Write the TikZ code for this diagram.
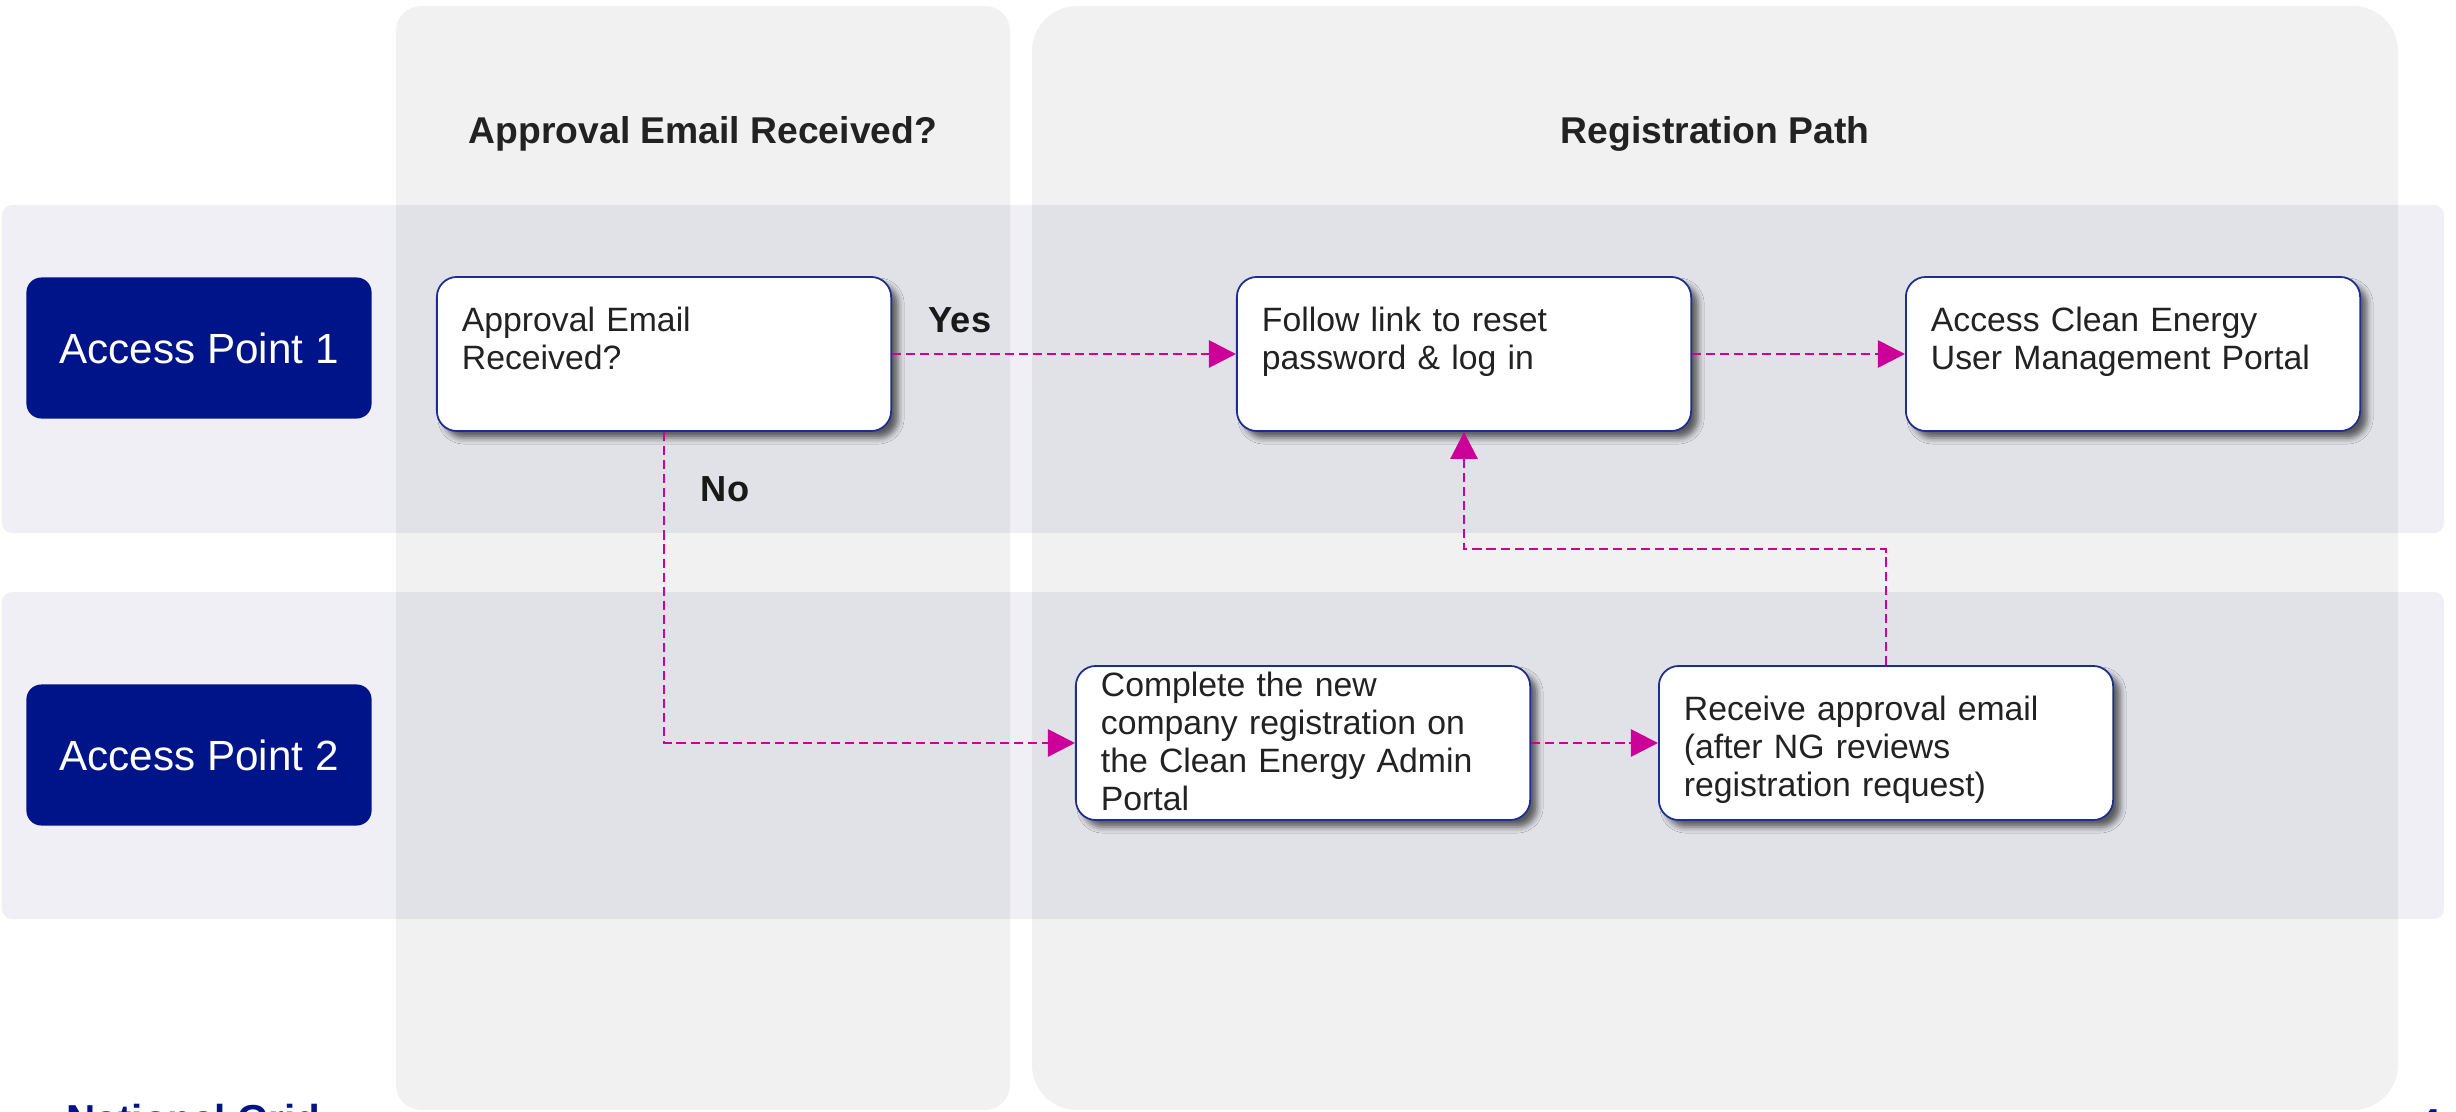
\documentclass[tikz,border=0pt]{standalone}
\usepackage{fontspec}
\setmainfont{Liberation Sans}
\usepackage{tikz}
\usetikzlibrary{positioning}
\usetikzlibrary{arrows.meta, shadows.blur}
\definecolor{ngnavy}{RGB}{0,20,137}
\definecolor{edgenavy}{RGB}{30,45,145}
\definecolor{flowpink}{RGB}{204,0,153}
\definecolor{panelgray}{RGB}{241,241,241}
\definecolor{lanegray}{RGB}{239,239,245}
\definecolor{overlapgray}{RGB}{225,226,231}
\definecolor{inktext}{RGB}{34,34,34}

\tikzset{
  stepbox/.style={draw=edgenavy, line width=0.5pt, fill=white, rounded corners=0.2cm,
    text width=4.04cm, inner xsep=0.25cm, inner ysep=0pt, align=left,
    text height=0.55cm, text depth=0.99cm, text=inktext,
    font=\fontsize{9.6}{10.8}\selectfont,
    blur shadow={shadow xshift=0.07cm, shadow yshift=-0.07cm, shadow blur radius=0.06cm, shadow opacity=60}},
  apbox/.style={fill=ngnavy, rounded corners=0.15cm, minimum width=3.45cm, minimum height=1.41cm,
    text=white, font=\fontsize{12}{14}\selectfont},
  header/.style={text=inktext, font=\bfseries\fontsize{10.6}{12}\selectfont},
  choice/.style={text=black!90, font=\bfseries\fontsize{10.3}{12}\selectfont},
  footer/.style={text=ngnavy, font=\bfseries\fontsize{11.5}{13}\selectfont, inner sep=0pt},
  flow/.style={draw=flowpink, line width=0.8pt, dash pattern=on 2.6pt off 1.4pt,
    -{Triangle[length=0.27cm, width=0.27cm]}}
}

\begin{document}
\begin{tikzpicture}[x=0.01cm, y=-0.01cm]
    \useasboundingbox (0,0) rectangle (2456,1112);
    \clip (0,0) rectangle (2456,1112);

    % swim lanes for the two access points
    \fill[lanegray, rounded corners=0.1cm] (2,205) rectangle (2444,533);
    \fill[lanegray, rounded corners=0.1cm] (2,592) rectangle (2444,919);

    % column panels
    \fill[panelgray, rounded corners=0.25cm] (396,6) rectangle (1010,1110);
    \fill[panelgray, rounded corners=0.45cm] (1032,6) rectangle (2398,1110);

    % where lanes cross the panels it gets darker
    \begin{scope}
        \clip (396,6) rectangle (1010,1110) (1032,6) rectangle (2398,1110);
        \fill[overlapgray] (2,205) rectangle (2444,533);
        \fill[overlapgray] (2,592) rectangle (2444,919);
    \end{scope}

    % column titles
    \node[header] (h1) at (703,134) {Approval Email Received?};
    \node[header] (h2) at (1715,134) {Registration Path};

    % access points
    \node[apbox] (ap1) at (199,348) {Access Point 1};
    \node[apbox] (ap2) at (199,755) {Access Point 2};

    % steps
    \node[stepbox] (a) at (664,354) {Approval Email\\Received?};
    \node[stepbox] (b) at (1464,354) {Follow link to reset\\password \& log in};
    \node[stepbox] (c) at (2133,354) {Access Clean Energy\\User Management Portal};
    \node[stepbox, text height=0.31cm, text depth=1.23cm] (d) at (1303,743)
        {Complete the new\\company registration on\\the Clean Energy Admin\\Portal};
    \node[stepbox] (e) at (1886,743) {Receive approval email\\(after NG reviews\\registration request)};

    % yes / no answers
    \node[choice] (yes) at (960,320) {Yes};
    \node[choice] (no) at (725,489) {No};

    % arrows
    \draw[flow] (a.east) -- (b.west);
    \draw[flow] (b.east) -- (c.west);
    \draw[flow] (a.south) |- (d.west);
    \draw[flow] (d.east) -- (e.west);
    \draw[flow] (e.north) -- ++(0,-116) -| (b.south);

    % footer, cut by the page edge
    \node[footer, anchor=base west] (brand) at (66,1133) {National Grid};
    \node[footer, anchor=base west] (pagenum) at (2418,1137) {4};
\end{tikzpicture}
\end{document}
